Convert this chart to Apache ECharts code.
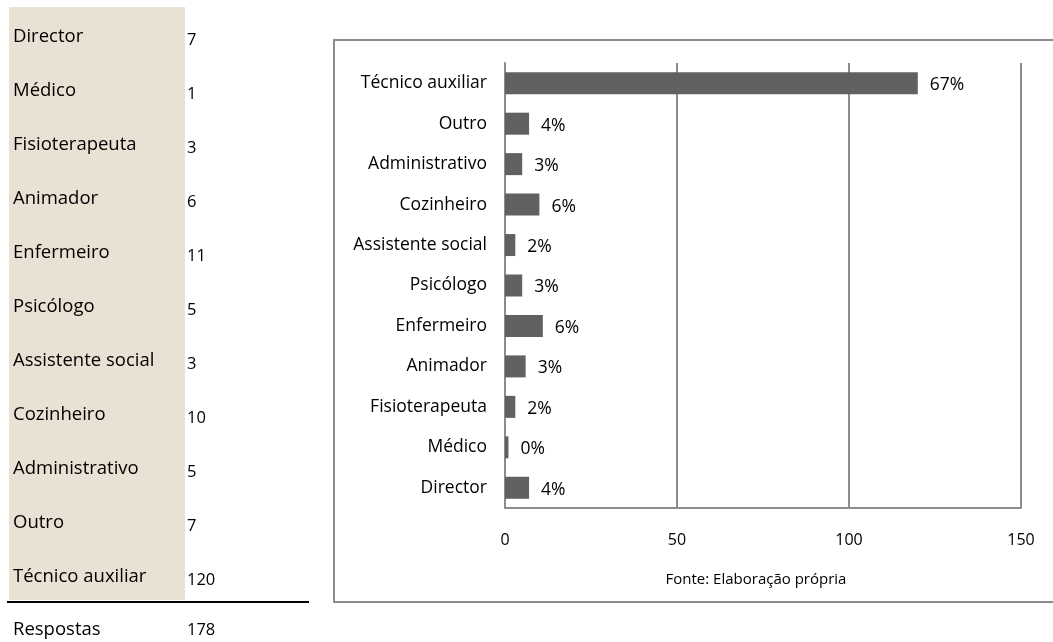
<!DOCTYPE html>
<html>
<head>
<meta charset="utf-8">
<script src="https://cdn.jsdelivr.net/npm/echarts@6/dist/echarts.min.js"></script>
<style>
html,body{margin:0;padding:0;background:#fff;}
#chart{width:1053px;height:642px;}
</style>
</head>
<body>
<div id="chart"></div>
<script>
// Categories (bottom to top on the chart; top to bottom in the table)
var categories = ['Director','Médico','Fisioterapeuta','Animador','Enfermeiro','Psicólogo','Assistente social','Cozinheiro','Administrativo','Outro','Técnico auxiliar'];
var counts = [7,1,3,6,11,5,3,10,5,7,120];
var pctLabels = ['4%','0%','2%','3%','6%','3%','2%','6%','3%','4%','67%'];
var totalLabel = 'Respostas';
var totalValue = 178;
var xTicks = [0,50,100,150];
var sourceText = 'Fonte: Elaboração própria';

var FONT = '"Open Sans", sans-serif';
var chart = echarts.init(document.getElementById('chart'), null, {renderer:'canvas'});

var graphics = [];
// beige table column
graphics.push({type:'rect', shape:{x:9,y:7,width:176,height:593}, style:{fill:'#E9E1D3'}, z:0});
// table rows
var rowTop = 37, rowStep = 54;
categories.forEach(function(c,i){
  var y = rowTop + i*rowStep;
  graphics.push({type:'text', x:13, y:y, style:{text:c, font:'18.5px '+FONT, fill:'#000', textVerticalAlign:'middle'}});
  graphics.push({type:'text', x:187, y:y+3, style:{text:String(counts[i]), font:'16.5px '+FONT, fill:'#000', textVerticalAlign:'middle'}});
});
// total line
graphics.push({type:'line', shape:{x1:7,y1:602,x2:309,y2:602}, style:{stroke:'#000', lineWidth:2}});
graphics.push({type:'text', x:13, y:630, style:{text:totalLabel, font:'18.5px '+FONT, fill:'#000', textVerticalAlign:'middle'}});
graphics.push({type:'text', x:187, y:630, style:{text:String(totalValue), font:'16.5px '+FONT, fill:'#000', textVerticalAlign:'middle'}});
// chart frame
graphics.push({type:'rect', shape:{x:334,y:40,width:740,height:562}, style:{fill:'none', stroke:'#8c8c8c', lineWidth:2}, z:0});
// source text
graphics.push({type:'text', x:756, y:580, style:{text:sourceText, font:'15px '+FONT, fill:'#000', textAlign:'center', textVerticalAlign:'middle'}});

var option = {
  animation:false,
  backgroundColor:'#fff',
  graphic: graphics,
  grid:{left:505, right:32, top:63, bottom:134, containLabel:false},
  xAxis:{
    type:'value', min:0, max:150, interval:50,
    axisLine:{show:true, lineStyle:{color:'#8c8c8c', width:2}},
    axisTick:{show:false},
    splitLine:{show:true, lineStyle:{color:'#8c8c8c', width:2}},
    axisLabel:{margin:24, color:'#000', fontSize:16, fontFamily:FONT,
      formatter:function(v){ return xTicks.indexOf(v)>=0 ? String(v) : ''; }}
  },
  yAxis:{
    type:'category', data:categories,
    axisLine:{show:true, lineStyle:{color:'#8c8c8c', width:2}},
    axisTick:{show:false},
    axisLabel:{margin:18, color:'#000', fontSize:17.5, fontFamily:FONT}
  },
  series:[{
    type:'bar', data:counts, barWidth:22,
    itemStyle:{color:'#616161'},
    label:{show:true, position:'right', distance:12, color:'#000', fontSize:17.5, fontFamily:FONT,
      offset:[0,2],
      formatter:function(p){ return pctLabels[p.dataIndex]; }}
  }]
};
chart.setOption(option);
</script>
</body>
</html>
